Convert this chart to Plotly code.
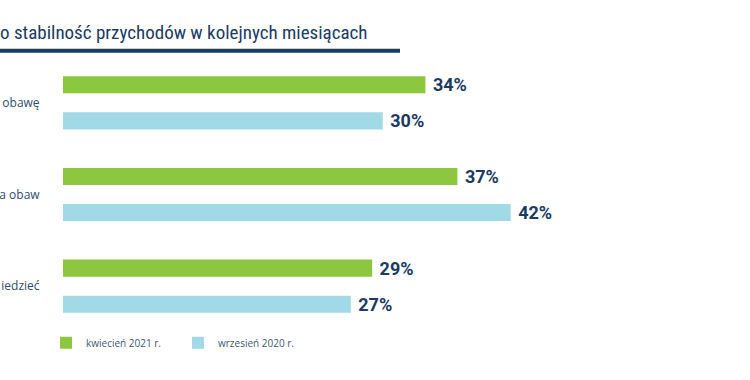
import plotly.graph_objects as go

categories = ["obawę", "a obaw", "iedzieć"]
series_names = ["kwiecień 2021 r.", "wrzesień 2020 r."]
values_2021 = [34, 37, 29]
values_2020 = [30, 42, 27]
title_text = "o stabilność przychodów w kolejnych miesiącach"

GREEN = "#8dc63f"
BLUE = "#a2d9e7"
NAVY = "#1b3b62"
LABEL = "#2f4d70"

W, H = 750, 380
ML, MT = 63, 57.25
PW = 640
PH = 274.5
MR = W - ML - PW
MB = H - MT - PH

fig = go.Figure()
for name, vals, col in [(series_names[0], values_2021, GREEN), (series_names[1], values_2020, BLUE)]:
    fig.add_trace(go.Bar(
        y=categories, x=vals, name=name, orientation="h",
        marker=dict(color=col, line=dict(width=0)),
        texttemplate=" %{x}%", textposition="outside", constraintext="none",
        textfont=dict(family="Roboto", size=18, color=NAVY, weight=700),
        cliponaxis=False, hoverinfo="skip",
    ))

fig.update_layout(
    width=W, height=H, template="none",
    margin=dict(l=ML, r=MR, t=MT, b=MB, pad=0),
    paper_bgcolor="white", plot_bgcolor="white",
    barmode="group", bargap=0.213, bargroupgap=0.528,
    showlegend=True,
    legend=dict(orientation="h", x=(46 - ML) / PW, xanchor="left", y=0.014, yanchor="top",
                font=dict(family="Open Sans", size=10, color="#3d5878"),
                entrywidth=87, entrywidthmode="pixels", traceorder="normal",
                bgcolor="rgba(0,0,0,0)"),
    xaxis=dict(range=[0, PW / 10.66], visible=False, automargin=False, fixedrange=True),
    yaxis=dict(autorange="reversed", automargin=False, showgrid=False, zeroline=False,
               showline=False, ticks="outside", ticklen=20, tickcolor="rgba(0,0,0,0)",
               tickfont=dict(family="Open Sans", size=12, color=LABEL)),
    title=dict(text=title_text, x=0, xref="container", xanchor="left",
               y=1 - 32 / H, yref="container", yanchor="middle", pad=dict(l=0, r=0, t=0, b=0),
               font=dict(family="Liberation Sans Narrow, Roboto Condensed, Roboto", size=19, color=NAVY, weight=400)),
    shapes=[dict(type="line", xref="paper", yref="paper",
                 x0=-ML / PW, x1=(400 - ML) / PW,
                 y0=1 + (MT - 51) / PH, y1=1 + (MT - 51) / PH,
                 line=dict(color=NAVY, width=4))],
)

fig.write_html("out.html", config={"displayModeBar": False},
               post_script="document.body.style.margin='0';")
